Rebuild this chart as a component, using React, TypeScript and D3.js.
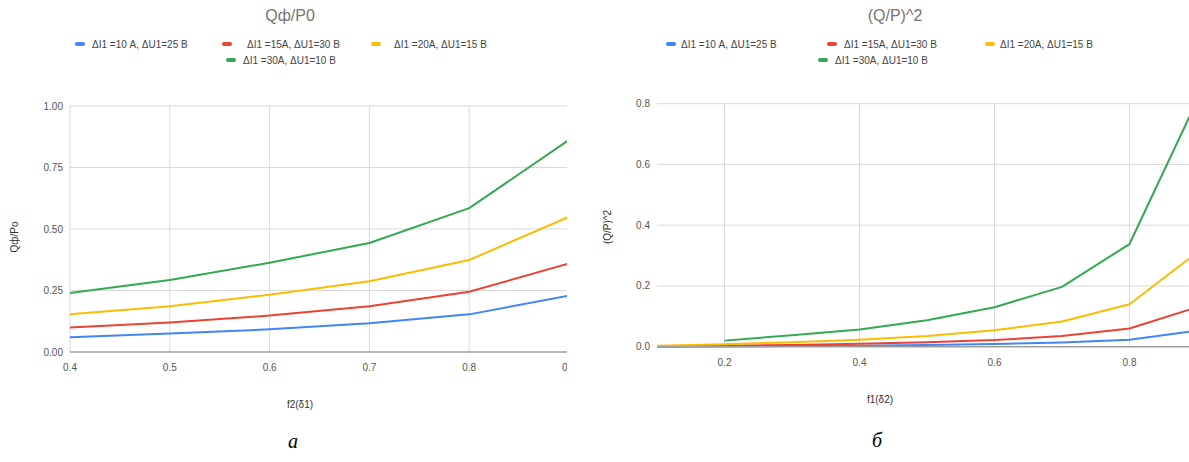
import React from "react";
import * as d3 from "d3";

// ---------- DATA ----------
const seriesNames = [
  "ΔI1 =10 А, ΔU1=25 В",
  "ΔI1 =15А, ΔU1=30 В",
  "ΔI1 =20А, ΔU1=15 В",
  "ΔI1 =30А, ΔU1=10 В",
];
const seriesColors = ["#4285F4", "#EA4335", "#FBBC04", "#34A853"];

// Left chart: Qф/P0 vs f2(δ1)
const leftX = [0.4, 0.5, 0.6, 0.7, 0.8, 0.9];
const leftBlue = [0.06, 0.075, 0.092, 0.117, 0.153, 0.229];
const leftRed = [0.1, 0.12, 0.148, 0.186, 0.245, 0.36];
const leftYellow = [0.153, 0.186, 0.233, 0.288, 0.374, 0.55];
const leftGreen = [0.24, 0.293, 0.363, 0.443, 0.585, 0.862];
const leftXTicks = [0.4, 0.5, 0.6, 0.7, 0.8, 0.9];
const leftYTicks = [0, 0.25, 0.5, 0.75, 1.0];

// Right chart: (Q/P)^2 vs f1(δ2)
const rightX = [0.1, 0.2, 0.3, 0.4, 0.5, 0.6, 0.7, 0.8, 0.9];
const rightBlue = [0.0005, 0.001, 0.002, 0.0035, 0.0055, 0.0085, 0.014, 0.023, 0.053];
const rightRed = [0.001, 0.003, 0.006, 0.01, 0.015, 0.022, 0.035, 0.06, 0.13];
const rightYellow = [0.003, 0.008, 0.015, 0.023, 0.035, 0.054, 0.083, 0.14, 0.31];
const rightGreen = [null, 0.02, 0.038, 0.057, 0.087, 0.13, 0.197, 0.338, 0.81];
const rightXTicks = [0.2, 0.4, 0.6, 0.8];
const rightYTicks = [0, 0.2, 0.4, 0.6, 0.8];

const FONT = "'Liberation Sans', Arial, sans-serif";

type Panel = {
  title: string;
  xTitle: string;
  yTitle: string;
  xs: number[];
  ys: (number | null)[][];
  xDomain: [number, number];
  xRange: [number, number];
  yDomain: [number, number];
  yRange: [number, number];
  xTicks: number[];
  yTicks: number[];
  xFmt: (v: number) => string;
  yFmt: (v: number) => string;
  clipRight: number;
  gridLeft: number;
  titleX: number;
  xTitlePos: [number, number];
  yTitlePos: [number, number];
  legend: { mx: number; tx: number; y: number }[];
  id: string;
  xLabelY: number;
};

function ChartPanel({ p }: { p: Panel }) {
  const x = d3.scaleLinear().domain(p.xDomain).range(p.xRange);
  const y = d3.scaleLinear().domain(p.yDomain).range(p.yRange);
  const x0 = p.xRange[0];
  const x1 = Math.min(p.xRange[1], p.clipRight);
  return (
    <g>
      <defs>
        <clipPath id={p.id}>
          <rect x={0} y={0} width={p.clipRight} height={462} />
        </clipPath>
      </defs>
      <g clipPath={`url(#${p.id})`}>
        {/* title */}
        <text x={p.titleX} y={21} textAnchor="middle" fontSize={16} fill="#757575" fontFamily={FONT}>
          {p.title}
        </text>
        {/* legend */}
        {seriesNames.map((n, i) => (
          <g key={n}>
            <rect x={p.legend[i].mx} y={p.legend[i].y - 2} width={10} height={4} rx={2} fill={seriesColors[i]} />
            <text x={p.legend[i].tx} y={p.legend[i].y + 3.5} fontSize={10} fill="#444" fontFamily={FONT}>
              {n}
            </text>
          </g>
        ))}
        {/* horizontal grid */}
        {p.yTicks.map((t) => (
          <g key={"y" + t}>
            {t !== 0 && (
              <line x1={p.gridLeft} x2={x1} y1={y(t)} y2={y(t)} stroke="#d9d9d9" strokeWidth={1} />
            )}
            <text x={x0 - 7} y={y(t) + 3.5} textAnchor="end" fontSize={10} fill="#555" fontFamily={FONT}>
              {p.yFmt(t)}
            </text>
          </g>
        ))}
        {/* vertical grid */}
        {p.xTicks.map((t) => (
          <g key={"x" + t}>
            <line x1={x(t)} x2={x(t)} y1={p.yRange[1]} y2={p.yRange[0]} stroke="#d9d9d9" strokeWidth={1} />
            <text x={x(t)} y={p.xLabelY} textAnchor="middle" fontSize={10} fill="#555" fontFamily={FONT}>
              {p.xFmt(t)}
            </text>
          </g>
        ))}
        {/* lines */}
        {p.ys.map((vals, i) => {
          const pts = p.xs.map((xv, j) => [xv, vals[j]] as [number, number | null]);
          const gen = d3
            .line<[number, number | null]>()
            .defined((d) => d[1] !== null)
            .x((d) => x(d[0]))
            .y((d) => y(d[1] as number));
          return (
            <path key={i} d={gen(pts) || ""} fill="none" stroke={seriesColors[i]} strokeWidth={2} strokeLinejoin="round" />
          );
        })}
        {/* baseline */}
        <line x1={x0} x2={x1} y1={y(0)} y2={y(0)} stroke="#9e9e9e" strokeWidth={1.5} />
        {/* axis titles */}
        <text x={p.xTitlePos[0]} y={p.xTitlePos[1]} textAnchor="middle" fontSize={10} fill="#333" fontFamily={FONT}>
          {p.xTitle}
        </text>
        <text
          transform={`translate(${p.yTitlePos[0]},${p.yTitlePos[1]}) rotate(-90)`}
          textAnchor="middle"
          fontSize={10}
          fill="#333"
          fontFamily={FONT}
        >
          {p.yTitle}
        </text>
      </g>
    </g>
  );
}

const leftPanel: Panel = {
  id: "clipL",
  title: "Qф/P0",
  xTitle: "f2(δ1)",
  yTitle: "Qф/Po",
  xs: leftX,
  ys: [leftBlue, leftRed, leftYellow, leftGreen],
  xDomain: [0.4, 0.9],
  xRange: [70, 569],
  yDomain: [0, 1],
  yRange: [352, 106],
  xTicks: leftXTicks,
  yTicks: leftYTicks,
  xFmt: (v) => v.toFixed(1),
  yFmt: (v) => v.toFixed(2),
  clipRight: 567,
  gridLeft: 70,
  titleX: 290,
  xTitlePos: [300, 408],
  yTitlePos: [18, 237],
  legend: [
    { mx: 75, tx: 92, y: 44 },
    { mx: 222, tx: 247, y: 44 },
    { mx: 371, tx: 394, y: 44 },
    { mx: 226, tx: 243, y: 60 },
  ],
  xLabelY: 371,
};

const rightPanel: Panel = {
  id: "clipR",
  title: "(Q/P)^2",
  xTitle: "f1(δ2)",
  yTitle: "(Q/P)^2",
  xs: rightX,
  ys: [rightBlue, rightRed, rightYellow, rightGreen],
  xDomain: [0.1, 0.9],
  xRange: [657, 1197],
  yDomain: [0, 0.8],
  yRange: [346.7, 103.7],
  xTicks: rightXTicks,
  yTicks: rightYTicks,
  xFmt: (v) => v.toFixed(1),
  yFmt: (v) => v.toFixed(1),
  clipRight: 1189,
  gridLeft: 657,
  titleX: 895,
  xTitlePos: [880, 403],
  yTitlePos: [611, 227],
  legend: [
    { mx: 666, tx: 681, y: 44 },
    { mx: 827, tx: 844, y: 44 },
    { mx: 985, tx: 1000, y: 44 },
    { mx: 818, tx: 835, y: 60 },
  ],
  xLabelY: 366,
};

export default function App() {
  return (
    <svg
      width={1189}
      height={462}
      style={{ position: "absolute", left: 0, top: 0, background: "#fff" }}
    >
      <rect x={0} y={0} width={1189} height={462} fill="#fff" />
      <ChartPanel p={leftPanel} />
      <ChartPanel p={rightPanel} />
      <text x={293} y={448} textAnchor="middle" fontSize={20} fontStyle="italic" fontFamily="'Liberation Serif', 'Times New Roman', serif" fill="#000">
        а
      </text>
      <text x={877} y={447} textAnchor="middle" fontSize={20} fontStyle="italic" fontFamily="'Liberation Serif', 'Times New Roman', serif" fill="#000">
        б
      </text>
    </svg>
  );
}
